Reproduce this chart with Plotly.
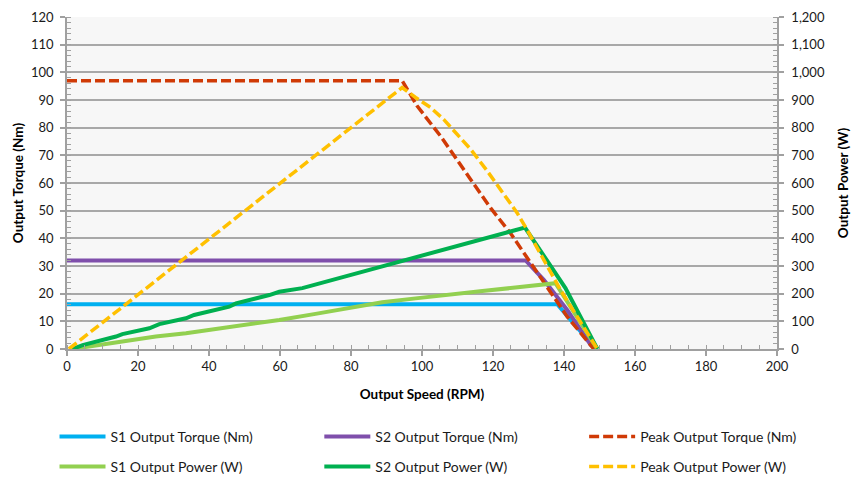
import plotly.graph_objects as go

# ---- data ----
s1_torque_rpm = [0, 138.1, 148.9]
s1_torque_nm = [16.2, 16.2, 0]

s2_torque_rpm = [0, 129.2, 134.3, 140.9, 147.5, 148.9]
s2_torque_nm = [32, 32, 25.0, 14.1, 1.5, 0]

peak_torque_rpm = [0, 94.4, 98.6, 105.2, 113.7, 119.3, 124.9, 134.3, 140.9, 148.4]
peak_torque_nm = [97, 97, 87.9, 77.0, 61.3, 51.0, 41.9, 24.4, 11.7, 0]

s1_power_rpm = [1.5, 10.0, 17.5, 25.0, 33.5, 41.9, 50.4, 59.8, 70.0, 79.4, 88.8,
                98.2, 107.5, 117.0, 126.3, 137.6, 149.4]
s1_power_w = [0, 17, 29, 45, 57, 72, 87, 105, 127, 147, 169, 183, 198, 210, 222, 238, 0]

s2_power_rpm = [1.5, 4.4, 13.8, 15.6, 23.2, 26.0, 33.5, 35.8, 45.7, 47.6, 57.0, 59.8,
                66.3, 72.0, 78.5, 86.9, 94.4, 101.0, 109.4, 117.0, 124.5, 129.0, 140.4, 149.4]
s2_power_w = [0, 14, 45, 54, 75, 90, 111, 123, 153, 165, 195, 207, 220, 240, 262, 292,
              316, 340, 370, 398, 424, 439, 220, 0]

peak_power_rpm = [0.5, 94.4, 98.2, 102.4, 106.1, 109.9, 113.7, 118.4, 122.6, 126.8,
                  129.6, 139.0, 149.4]
peak_power_w = [0, 945, 909, 873, 830, 776, 722, 643, 565, 492, 431, 214, 0]

names = ["S1 Output Torque (Nm)", "S2 Output Torque (Nm)", "Peak Output Torque (Nm)",
         "S1 Output Power (W)", "S2 Output Power (W)", "Peak Output Power (W)"]

# ---- styles ----
C_CYAN = "#00b0f0"
C_PURPLE = "#7f4fab"
C_RED = "#d03a06"
C_LGREEN = "#92d050"
C_GREEN = "#00b050"
C_YELLOW = "#ffc000"
DASH = "10px,4px"

TICK_FONT = dict(family="Lato, 'Open Sans', sans-serif", size=13, color="#1a1a1a")
TITLE_FONT = dict(family="Lato, 'Open Sans', sans-serif", size=13.5, color="#000000", weight="bold")
LEG_FONT = dict(family="Lato, 'Open Sans', sans-serif", size=14, color="#1a1a1a")
GRID = "#a8a8a8"
AXIS = "#a0a0a0"

# (x, y, colour, width, dash, yaxis, legend)
specs = [
    (s1_torque_rpm, s1_torque_nm, C_CYAN, 4, None, "y", "legend"),
    (s2_torque_rpm, s2_torque_nm, C_PURPLE, 4, None, "y", "legend2"),
    (peak_torque_rpm, peak_torque_nm, C_RED, 3.5, DASH, "y", "legend3"),
    (s1_power_rpm, s1_power_w, C_LGREEN, 4, None, "y2", "legend4"),
    (s2_power_rpm, s2_power_w, C_GREEN, 4, None, "y2", "legend5"),
    (peak_power_rpm, peak_power_w, C_YELLOW, 3.5, DASH, "y2", "legend6"),
]

fig = go.Figure()
for name, (xs, ys, col, wd, dash, ax, leg) in zip(names, specs):
    fig.add_trace(go.Scatter(x=xs, y=ys, name=name, mode="lines", yaxis=ax, legend=leg,
                             line=dict(color=col, width=wd, dash=dash)))

W, H = 852, 478
ML, MT = 66.5, 17
MR = W - 777
MB = H - 349
plot_w = W - ML - MR
plot_h = H - MT - MB


def px_to_paper_x(px):  # page pixel -> paper
    return (px - ML) / plot_w


def py_to_paper_y(py):
    return (H - MB - py) / plot_h


leg_common = dict(orientation="h", xref="paper", yref="paper", xanchor="left", yanchor="middle",
                  font=LEG_FONT, bgcolor="rgba(0,0,0,0)", borderwidth=0, itemwidth=46)

col_x = [54, 319, 584]
row_y = [437, 467]
legends = {}
for i in range(6):
    key = "legend" if i == 0 else "legend%d" % (i + 1)
    legends[key] = dict(x=px_to_paper_x(col_x[i % 3]), y=py_to_paper_y(row_y[i // 3]), **leg_common)

fig.update_layout(
    width=W, height=H,
    margin=dict(l=ML, r=MR, t=MT, b=MB, pad=0, autoexpand=False),
    paper_bgcolor="white", plot_bgcolor="#f7f7f7",
    showlegend=True,
    **legends,
    xaxis=dict(range=[0, 200], dtick=20, tick0=0, showgrid=False, zeroline=False,
               showline=True, linecolor=AXIS, linewidth=1.5,
               ticks="outside", ticklen=5, tickcolor=AXIS, tickwidth=1.5,
               minor=dict(dtick=5, ticks="inside", ticklen=4, tickcolor=AXIS, tickwidth=1.2),
               tickfont=TICK_FONT, automargin=False,
               title=dict(text="Output Speed (RPM)", font=TITLE_FONT, standoff=16)),
    yaxis=dict(range=[0, 120], dtick=10, tick0=0, showgrid=True, gridcolor=GRID, gridwidth=1.5,
               zeroline=False, showline=True, linecolor=AXIS, linewidth=1.5,
               ticks="outside", ticklen=5, tickcolor=AXIS, tickwidth=1.5, ticklabelstandoff=4,
               minor=dict(dtick=2, ticks="inside", ticklen=4, tickcolor=AXIS, tickwidth=1.2,
                          showgrid=False),
               tickfont=TICK_FONT, automargin=False,
               title=dict(text="Output Torque (Nm)", font=TITLE_FONT, standoff=4)),
    yaxis2=dict(range=[0, 1200], dtick=100, tick0=0, overlaying="y", side="right",
                showgrid=False, zeroline=False, showline=True, linecolor=AXIS, linewidth=1.5,
                ticks="outside", ticklen=5, tickcolor=AXIS, tickwidth=1.5, tickformat=",",
                ticklabelstandoff=5,
                minor=dict(dtick=20, ticks="inside", ticklen=4, tickcolor=AXIS, tickwidth=1.2),
                tickfont=TICK_FONT, automargin=False,
                title=dict(text="Output Power (W)", font=TITLE_FONT, standoff=15)),
)

# remove the page's default 8px body margin so the figure fills the window exactly
fig.write_html("out.html", config={"displayModeBar": False},
               post_script="document.body.style.margin='0';document.body.style.overflow='hidden';")
